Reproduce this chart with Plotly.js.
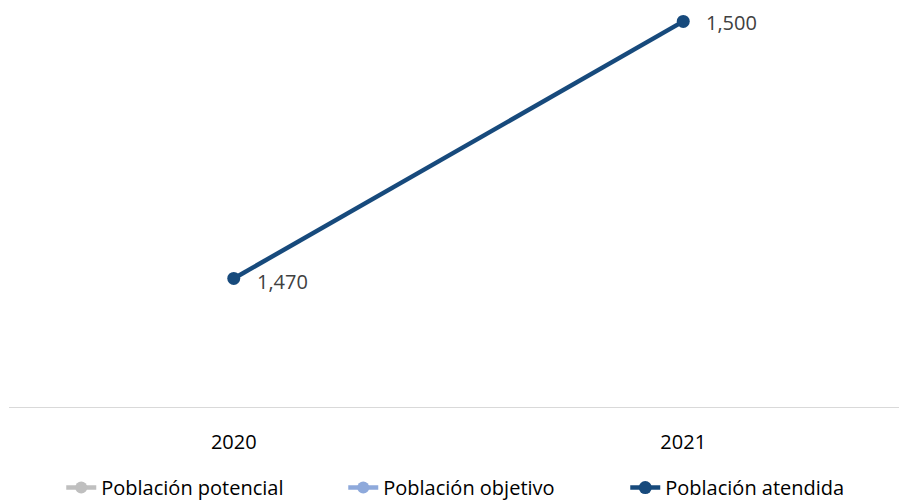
<!DOCTYPE html>
<html>
<head>
<meta charset="utf-8">
<script src="https://cdn.plot.ly/plotly-3.0.1.min.js"></script>
<style>html,body{margin:0;padding:0;background:#fff;}#chart{width:899px;height:502px;}</style>
</head>
<body>
<div id="chart"></div>
<script>
const years = ['2020', '2021'];
const potencial = [null, null];
const objetivo = [null, null];
const atendida = [1470, 1500];
const atendidaLabels = ['1,470', '1,500'];

const fontFam = '"Open Sans", "Noto Sans", sans-serif';

const traces = [
  {x: years, y: potencial, name: 'Población potencial', type: 'scatter', mode: 'lines+markers',
   line: {color: '#BFBFBF', width: 4.5}, marker: {size: 12, color: '#BFBFBF'}},
  {x: years, y: objetivo, name: 'Población objetivo', type: 'scatter', mode: 'lines+markers',
   line: {color: '#8EA9DB', width: 4.5}, marker: {size: 12, color: '#8EA9DB'}},
  {x: years, y: atendida, name: 'Población atendida', type: 'scatter', mode: 'lines+markers',
   line: {color: '#174A7C', width: 4.5}, marker: {size: 13, color: '#174A7C'}, cliponaxis: false}
];

const annotations = years.map((yr, i) => ({
  x: i, y: atendida[i], xref: 'x', yref: 'y', text: atendidaLabels[i], showarrow: false,
  xanchor: 'left', yanchor: 'middle', xshift: 21, yshift: i === 0 ? -3 : -1,
  font: {size: 20, color: '#404040', family: fontFam}
}));

const layout = {
  width: 899, height: 502,
  margin: {l: 9, r: 0, t: 0, b: 95, autoexpand: false},
  paper_bgcolor: '#fff', plot_bgcolor: '#fff',
  font: {family: fontFam, size: 20, color: '#404040'},
  showlegend: true,
  annotations: annotations,
  legend: {orientation: 'h', x: 0.534, xanchor: 'center', y: -0.198, yanchor: 'middle',
           font: {size: 20, color: '#000'}, tracegroupgap: 0,
           entrywidth: 237, entrywidthmode: 'pixels'},
  xaxis: {type: 'category', range: [-0.5, 1.48], showgrid: false, zeroline: false,
          showline: true, linecolor: '#D9D9D9', linewidth: 1, ticks: '',
          tickfont: {size: 20, color: '#000'}, ticklabelstandoff: 17, fixedrange: true},
  yaxis: {range: [1455, 1502.5], visible: false, showgrid: false, zeroline: false, fixedrange: true}
};

Plotly.newPlot('chart', traces, layout, {displayModeBar: false, staticPlot: true});
</script>
</body>
</html>
